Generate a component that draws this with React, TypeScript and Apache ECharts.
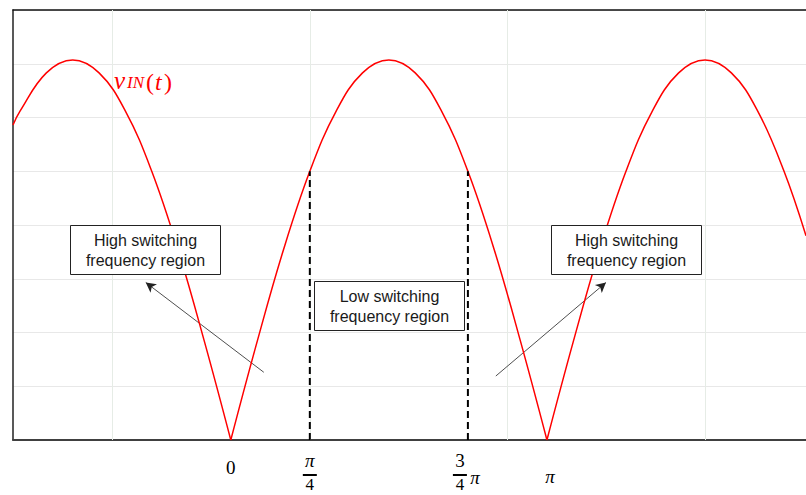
import { useEffect, useRef } from "react";
import * as echarts from "echarts";

// x in electrical degrees (0 = 0, 180 = π), y in volts-like units
const arch1X = [-124, -120, -105, -90, -75, -60, -45, -30, -15, 0];
const arch1Y = [5.86, 6.12, 6.83, 7.07, 6.83, 6.12, 5.0, 3.54, 1.83, 0];
const arch2X = [0, 15, 30, 45, 60, 75, 90, 105, 120, 135, 150, 165, 180];
const arch2Y = [0, 1.83, 3.54, 5.0, 6.12, 6.83, 7.07, 6.83, 6.12, 5.0, 3.54, 1.83, 0];
const arch3X = [180, 195, 210, 225, 240, 255, 270, 285, 300, 315, 327.5];
const arch3Y = [0, 1.83, 3.54, 5.0, 6.12, 6.83, 7.07, 6.83, 6.12, 5.0, 3.8];

const dashX = [45, 135];
const dashTop = [5.0, 5.0];
const vGridX = [-67.5, 45, 157.5, 270];

const tickValues = [0, 45, 135, 180];
const tickKinds = ["0", "pi/4", "3/4pi", "pi"];

const arrowFrom = [
  [18.8, 1.26],
  [150.9, 1.19],
];
const arrowTo = [
  [-48.4, 2.93],
  [213.6, 2.93],
];

const boxTexts = [
  "High switching\nfrequency region",
  "Low switching\nfrequency region",
  "High switching\nfrequency region",
];

const X_MIN = -124;
const X_MAX = 327.5;

function zip(xs: number[], ys: number[]) {
  return xs.map((x, i) => [x, ys[i]]);
}

export default function App() {
  const ref = useRef<HTMLDivElement>(null);
  useEffect(() => {
    if (!ref.current) return;
    const chart = echarts.init(ref.current, undefined, { renderer: "svg" });
    const red = "#ff0000";
    const curveSeries = [zip(arch1X, arch1Y), zip(arch2X, arch2Y), zip(arch3X, arch3Y)].map(
      (d, i) => ({
        type: "line",
        data: d,
        smooth: 0.4,
        symbol: "none",
        lineStyle: { color: red, width: 1.5 },
        z: 5,
        silent: true,
        ...(i === 0
          ? {
              markLine: {
                silent: true,
                symbol: "none",
                label: { show: false },
                lineStyle: { color: "#e6ece6", width: 1, type: "solid" },
                data: vGridX.map((x) => ({ xAxis: x })),
                z: 1,
              },
            }
          : {}),
      })
    );
    const dashSeries = dashX.map((x, i) => ({
      type: "line",
      data: [
        [x, 0],
        [x, dashTop[i]],
      ],
      symbol: "none",
      silent: true,
      lineStyle: { color: "#000", width: 2, type: [7, 4] },
      z: 6,
    }));
    const arrowSeries = {
      type: "line",
      data: [],
      silent: true,
      markLine: {
        silent: true,
        symbol: ["none", "arrow"],
        symbolSize: [8, 10],
        label: { show: false },
        lineStyle: { color: "#222", width: 0.8, type: "solid" },
        data: arrowFrom.map((f, i) => [{ coord: f }, { coord: arrowTo[i] }]),
      },
      z: 7,
    };
    chart.setOption({
      animation: false,
      grid: { left: 13, right: 0, top: 10, bottom: 55 },
      xAxis: [
        {
          type: "value",
          min: X_MIN,
          max: X_MAX,
          axisLine: { show: true, onZero: false, lineStyle: { color: "#404040", width: 2 } },
          axisTick: { show: false },
          axisLabel: { show: false },
          splitLine: { show: false },
        },
        {
          type: "value",
          position: "top",
          min: X_MIN,
          max: X_MAX,
          axisLine: { show: true, onZero: false, lineStyle: { color: "#111", width: 1.5 } },
          axisTick: { show: false },
          axisLabel: { show: false },
          splitLine: { show: false },
        },
      ],
      yAxis: {
        type: "value",
        min: 0,
        max: 8,
        interval: 1,
        axisLine: { show: true, onZero: false, lineStyle: { color: "#222", width: 1.5 } },
        axisTick: { show: false },
        axisLabel: { show: false },
        splitLine: { show: true, lineStyle: { color: "#e8e8e8", width: 1 } },
      },
      series: [...curveSeries, ...dashSeries, arrowSeries],
    });

    const px = (x: number, y: number) => chart.convertToPixel({ gridIndex: 0 }, [x, y]) as number[];
    const serif = "'Liberation Serif', 'DejaVu Serif', serif";
    const sans = "'Liberation Sans', Arial, sans-serif";
    const graphics: any[] = [];
    const base = px(0, 0)[1];
    tickValues.forEach((v, i) => {
      const cx = px(v, 0)[0];
      const kind = tickKinds[i];
      const txt = (t: string, x: number, y: number, italic = false, size = 19) => ({
        type: "text",
        x,
        y,
        z: 50,
        style: {
          text: t,
          fill: "#000",
          font: `${italic ? "italic " : ""}${size}px ${serif}`,
          align: "center",
          verticalAlign: "middle",
        },
      });
      if (kind === "0") graphics.push(txt("0", cx, base + 27));
      if (kind === "pi") graphics.push(txt("π", cx + 3, base + 36, true));
      if (kind === "pi/4") {
        graphics.push(txt("π", cx, base + 20, true));
        graphics.push({ type: "line", z: 50, shape: { x1: cx - 7, y1: base + 35, x2: cx + 7, y2: base + 35 }, style: { stroke: "#000", lineWidth: 2 } });
        graphics.push(txt("4", cx, base + 44, false, 17));
      }
      if (kind === "3/4pi") {
        const fx = cx - 8;
        graphics.push(txt("3", fx, base + 20));
        graphics.push({ type: "line", z: 50, shape: { x1: fx - 7, y1: base + 35, x2: fx + 7, y2: base + 35 }, style: { stroke: "#000", lineWidth: 2 } });
        graphics.push(txt("4", fx, base + 44, false, 17));
        graphics.push(txt("π", fx + 15, base + 37, true));
      }
    });

    // annotation boxes
    const boxes = [
      { x: 70, y: 225, w: 150, h: 49 },
      { x: 314, y: 281, w: 150, h: 49 },
      { x: 551, y: 225, w: 150, h: 49 },
    ];
    boxes.forEach((b, i) => {
      graphics.push({
        type: "rect",
        z: 40,
        shape: { x: b.x + 0.5, y: b.y + 0.5, width: b.w, height: b.h },
        style: { fill: "#fff", stroke: "#222", lineWidth: 1 },
      });
      graphics.push({
        type: "text",
        z: 41,
        x: b.x + b.w / 2 + 0.5,
        y: b.y + b.h / 2 + 0.5,
        style: {
          text: boxTexts[i],
          font: `16px ${sans}`,
          fill: "#1a1a1a",
          align: "center",
          verticalAlign: "middle",
          lineHeight: 20,
        },
      });
    });

    // v_IN(t) label
    const lbl = (t: string, x: number, y: number, size: number, italic: boolean) => ({
      type: "text",
      x,
      y,
      z: 50,
      style: {
        text: t,
        fill: red,
        font: `${italic ? "italic " : ""}${size}px ${serif}`,
        align: "left",
        verticalAlign: "alphabetic",
      },
    });
    graphics.push(lbl("v", 114, 68, 25, true));
    graphics.push(lbl("IN", 127, 74, 17, true));
    graphics.push(lbl("(", 146, 70, 24, false));
    graphics.push(lbl("t", 155, 70, 24, true));
    graphics.push(lbl(")", 164, 70, 24, false));

    chart.setOption({ graphic: graphics });
    return () => chart.dispose();
  }, []);
  return (
    <div
      ref={ref}
      style={{ position: "fixed", left: 0, top: 0, width: 806, height: 495, background: "#fff" }}
    />
  );
}
